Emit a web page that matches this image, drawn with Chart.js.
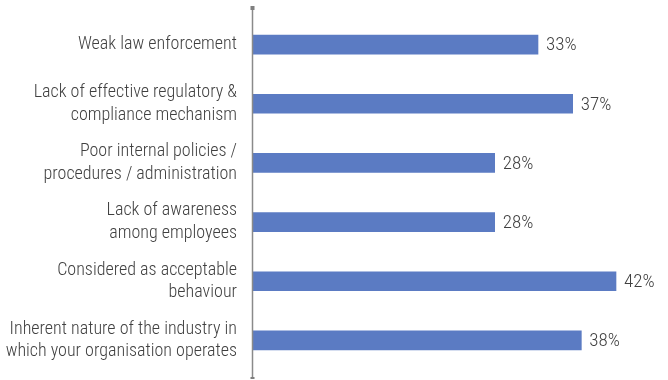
<!DOCTYPE html>
<html>
<head>
<meta charset="utf-8">
<script src="https://cdn.jsdelivr.net/npm/chart.js@4"></script>
<style>
  html, body { margin: 0; padding: 0; background: #ffffff; }
  #wrap { width: 668px; height: 380px; position: relative; }
</style>
</head>
<body>
<div id="wrap"><canvas id="chart"></canvas></div>
<script>
const reasons = [
  'Weak law enforcement',
  ['Lack of effective regulatory &', 'compliance mechanism'],
  ['Poor internal policies /', 'procedures / administration'],
  ['Lack of awareness', 'among employees'],
  ['Considered as acceptable', 'behaviour'],
  ['Inherent nature of the industry in', 'which your organisation operates']
];
const shares = [33, 37, 28, 28, 42, 38];

const FONT = '"Liberation Sans Narrow", "Roboto Condensed", "DejaVu Sans Condensed", sans-serif';
const TEXT_COLOR = '#404040';

// value text just past the end of each bar
const valueLabels = {
  id: 'valueLabels',
  afterDatasetsDraw(chart) {
    const ctx = chart.ctx;
    const meta = chart.getDatasetMeta(0);
    ctx.save();
    ctx.font = '300 19px ' + FONT;
    ctx.fillStyle = TEXT_COLOR;
    ctx.textAlign = 'left';
    ctx.textBaseline = 'middle';
    meta.data.forEach((bar, i) => {
      ctx.fillText(shares[i] + '%', bar.x + 8, bar.y + 1);
    });
    ctx.restore();
  }
};

// vertical category axis with small end caps, running a bit past the plot
const axisLine = {
  id: 'axisLine',
  afterDatasetsDraw(chart) {
    const ctx = chart.ctx;
    const area = chart.chartArea;
    const x = area.left + 0.5;
    const top = area.top - 8;
    const bottom = area.bottom + 9;
    ctx.save();
    ctx.strokeStyle = '#8a8a8a';
    ctx.lineWidth = 1.5;
    ctx.beginPath();
    ctx.moveTo(x, top);
    ctx.lineTo(x, bottom);
    ctx.stroke();
    ctx.fillStyle = '#7f7f7f';
    ctx.fillRect(x - 2, top - 1, 4, 4);
    ctx.fillRect(x - 2, bottom - 2, 4, 2);
    ctx.restore();
  }
};

new Chart(document.getElementById('chart'), {
  type: 'bar',
  data: {
    labels: reasons,
    datasets: [{
      data: shares,
      backgroundColor: '#5b7bc3',
      borderWidth: 0,
      barThickness: 19
    }]
  },
  options: {
    indexAxis: 'y',
    responsive: true,
    maintainAspectRatio: false,
    animation: false,
    layout: { padding: { top: 15, bottom: 10, right: 0, left: 0 } },
    scales: {
      x: {
        display: false,
        min: 0,
        max: 48
      },
      y: {
        afterFit: (scale) => {
          scale.width = 252;
          // labels may overhang the plot edges; keep the plot height fixed
          scale.paddingTop = 0;
          scale.paddingBottom = 0;
        },
        grid: { display: false, drawTicks: false },
        border: { display: false },
        ticks: {
          padding: 15,
          color: TEXT_COLOR,
          font: { family: FONT, size: 18, weight: '300', lineHeight: 1.25 }
        }
      }
    },
    plugins: {
      legend: { display: false },
      tooltip: { enabled: false }
    }
  },
  plugins: [valueLabels, axisLine]
});
</script>
</body>
</html>
